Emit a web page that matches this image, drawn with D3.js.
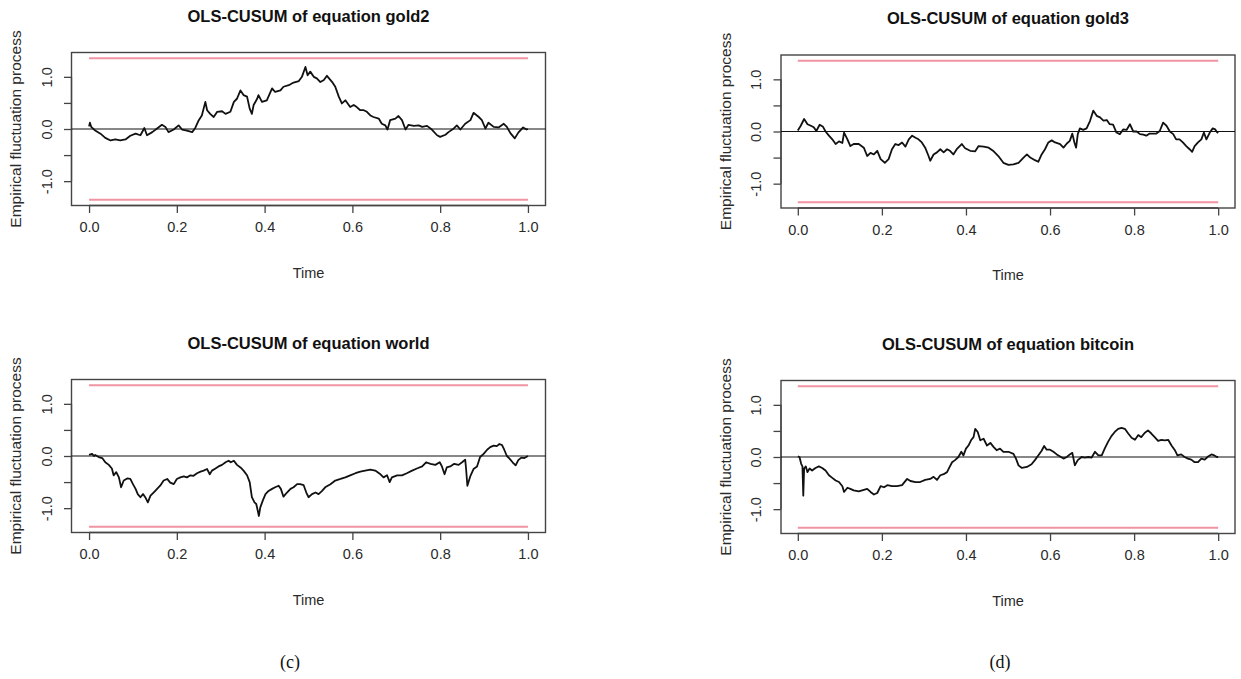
<!DOCTYPE html>
<html><head><meta charset="utf-8">
<script src="https://cdn.jsdelivr.net/npm/d3@7"></script>
<style>html,body{margin:0;padding:0;background:#fff;}svg{display:block;}</style>
</head><body>
<script>
// ---------- data ----------
const xTicks = [0, 0.2, 0.4, 0.6, 0.8, 1.0];
const xTickLabels = ["0.0", "0.2", "0.4", "0.6", "0.8", "1.0"];
const yTicks = [-1.0, -0.5, 0.0, 0.5, 1.0];
const yTickLabels = ["-1.0", "", "0.0", "", "1.0"];
const boundary = 1.358;
const titles = ["OLS-CUSUM of equation gold2", "OLS-CUSUM of equation gold3", "OLS-CUSUM of equation world", "OLS-CUSUM of equation bitcoin"];
const captions = ["(c)", "(d)"];

const gold2Time = [0,0.002,0.005,0.014,0.026,0.037,0.049,0.060,0.071,0.083,0.094,0.106,0.117,0.126,0.132,0.144,0.155,0.166,0.174,0.181,0.193,0.204,0.212,0.223,0.235,0.242,0.250,0.257,0.265,0.269,0.276,0.284,0.292,0.303,0.311,0.322,0.330,0.337,0.345,0.352,0.360,0.366,0.371,0.375,0.383,0.386,0.394,0.405,0.417,0.424,0.436,0.443,0.455,0.466,0.478,0.485,0.493,0.498,0.504,0.512,0.519,0.527,0.535,0.542,0.554,0.561,0.569,0.576,0.584,0.595,0.603,0.610,0.618,0.626,0.633,0.641,0.648,0.660,0.667,0.675,0.680,0.686,0.698,0.705,0.713,0.721,0.728,0.740,0.751,0.759,0.770,0.781,0.793,0.800,0.812,0.819,0.831,0.838,0.846,0.857,0.869,0.876,0.888,0.895,0.903,0.910,0.922,0.933,0.945,0.952,0.960,0.970,0.978,0.989,0.997,1.0];
const gold2Value = [0.05,0.12,0.04,-0.03,-0.09,-0.17,-0.22,-0.20,-0.22,-0.20,-0.13,-0.09,-0.12,0.02,-0.12,-0.06,0.01,0.08,0.04,-0.06,-0.01,0.07,-0.01,-0.03,-0.06,0.02,0.17,0.26,0.52,0.36,0.29,0.23,0.33,0.34,0.29,0.33,0.52,0.58,0.74,0.65,0.62,0.39,0.29,0.46,0.58,0.65,0.52,0.55,0.78,0.71,0.74,0.81,0.84,0.89,0.92,1.00,1.19,1.03,1.10,1.00,0.97,0.90,0.94,1.02,0.90,0.81,0.62,0.49,0.55,0.42,0.46,0.42,0.36,0.36,0.33,0.26,0.23,0.20,0.10,0.07,-0.01,0.17,0.20,0.25,0.17,-0.01,0.08,0.06,0.07,0.04,0.06,-0.01,-0.12,-0.15,-0.11,-0.06,0.01,0.07,-0.01,0.10,0.17,0.31,0.23,0.17,0.01,0.12,0.04,0.03,0.10,0.04,-0.08,-0.18,-0.07,0.03,-0.01,0.0];

const gold3Time = [0,0.007,0.015,0.023,0.031,0.038,0.044,0.052,0.060,0.066,0.074,0.082,0.090,0.098,0.106,0.110,0.118,0.125,0.133,0.145,0.157,0.165,0.173,0.181,0.189,0.197,0.207,0.216,0.224,0.232,0.240,0.248,0.256,0.264,0.272,0.280,0.287,0.295,0.303,0.311,0.315,0.323,0.331,0.339,0.347,0.355,0.362,0.370,0.378,0.390,0.398,0.410,0.422,0.430,0.442,0.454,0.466,0.477,0.489,0.501,0.513,0.525,0.537,0.545,0.553,0.564,0.572,0.580,0.588,0.596,0.604,0.612,0.624,0.632,0.640,0.647,0.653,0.658,0.662,0.666,0.671,0.679,0.687,0.695,0.703,0.711,0.719,0.727,0.735,0.742,0.750,0.758,0.766,0.774,0.782,0.790,0.798,0.806,0.814,0.822,0.829,0.837,0.845,0.853,0.861,0.869,0.877,0.885,0.893,0.900,0.908,0.916,0.924,0.932,0.938,0.944,0.952,0.960,0.966,0.972,0.980,0.987,0.993,0.997,1.0];
const gold3Value = [0.02,0.11,0.24,0.14,0.11,0.08,0.01,0.13,0.09,0.00,-0.08,-0.15,-0.24,-0.19,-0.22,-0.02,-0.15,-0.28,-0.24,-0.24,-0.31,-0.47,-0.41,-0.44,-0.37,-0.53,-0.60,-0.53,-0.34,-0.24,-0.26,-0.21,-0.29,-0.15,-0.08,-0.12,-0.15,-0.21,-0.31,-0.47,-0.56,-0.44,-0.40,-0.34,-0.40,-0.34,-0.37,-0.44,-0.34,-0.24,-0.32,-0.37,-0.38,-0.28,-0.29,-0.31,-0.38,-0.47,-0.60,-0.64,-0.63,-0.60,-0.50,-0.44,-0.50,-0.55,-0.58,-0.44,-0.34,-0.21,-0.17,-0.21,-0.24,-0.31,-0.23,-0.18,-0.04,-0.21,-0.31,-0.05,0.06,0.03,0.06,0.20,0.40,0.30,0.27,0.21,0.22,0.14,0.13,-0.02,-0.05,0.04,0.03,0.14,0.00,0.00,-0.05,-0.06,-0.08,-0.04,-0.04,-0.04,0.01,0.17,0.11,0.00,-0.05,-0.15,-0.15,-0.21,-0.28,-0.34,-0.39,-0.28,-0.21,-0.15,-0.02,-0.15,-0.02,0.06,0.04,-0.01,-0.03];

const worldTime = [0,0.007,0.011,0.014,0.022,0.030,0.037,0.045,0.052,0.056,0.062,0.068,0.073,0.079,0.087,0.094,0.100,0.106,0.111,0.117,0.123,0.128,0.134,0.140,0.147,0.155,0.162,0.170,0.178,0.185,0.193,0.200,0.208,0.216,0.223,0.231,0.238,0.246,0.254,0.261,0.269,0.275,0.280,0.288,0.295,0.303,0.311,0.318,0.323,0.330,0.337,0.345,0.352,0.360,0.366,0.371,0.377,0.381,0.387,0.390,0.396,0.402,0.409,0.417,0.424,0.432,0.437,0.443,0.451,0.459,0.466,0.474,0.481,0.489,0.495,0.500,0.508,0.516,0.523,0.531,0.538,0.550,0.561,0.573,0.584,0.595,0.607,0.618,0.629,0.641,0.652,0.664,0.671,0.679,0.685,0.690,0.702,0.713,0.724,0.736,0.747,0.759,0.768,0.778,0.789,0.799,0.804,0.810,0.815,0.823,0.832,0.842,0.850,0.857,0.859,0.862,0.869,0.876,0.884,0.891,0.899,0.907,0.914,0.922,0.929,0.935,0.941,0.946,0.952,0.958,0.965,0.972,0.978,0.985,0.992,1.0];
const worldValue = [0.02,0.04,0.00,0.02,-0.02,-0.04,-0.12,-0.17,-0.24,-0.37,-0.31,-0.41,-0.60,-0.47,-0.43,-0.44,-0.54,-0.63,-0.73,-0.79,-0.73,-0.79,-0.89,-0.76,-0.70,-0.63,-0.57,-0.47,-0.44,-0.51,-0.54,-0.44,-0.41,-0.39,-0.41,-0.37,-0.38,-0.33,-0.30,-0.28,-0.25,-0.35,-0.28,-0.24,-0.20,-0.17,-0.12,-0.09,-0.12,-0.09,-0.17,-0.22,-0.28,-0.37,-0.50,-0.79,-0.89,-0.92,-1.15,-0.99,-0.85,-0.73,-0.67,-0.63,-0.60,-0.57,-0.63,-0.78,-0.70,-0.63,-0.60,-0.54,-0.54,-0.56,-0.70,-0.79,-0.73,-0.70,-0.73,-0.67,-0.60,-0.54,-0.47,-0.44,-0.41,-0.37,-0.33,-0.30,-0.28,-0.26,-0.28,-0.35,-0.41,-0.37,-0.50,-0.41,-0.37,-0.37,-0.33,-0.28,-0.24,-0.20,-0.12,-0.15,-0.17,-0.12,-0.20,-0.35,-0.22,-0.20,-0.15,-0.17,-0.12,-0.07,-0.24,-0.57,-0.38,-0.25,-0.20,-0.02,0.04,0.12,0.17,0.20,0.19,0.23,0.21,0.12,0.00,-0.05,-0.12,-0.18,-0.08,-0.03,-0.04,0.0];

const bitcoinTime = [0,0.004,0.008,0.011,0.013,0.015,0.019,0.023,0.028,0.034,0.042,0.050,0.058,0.066,0.074,0.082,0.090,0.098,0.106,0.110,0.118,0.125,0.133,0.145,0.157,0.165,0.173,0.181,0.189,0.197,0.205,0.213,0.224,0.236,0.248,0.260,0.268,0.280,0.291,0.303,0.315,0.323,0.331,0.339,0.347,0.355,0.360,0.367,0.374,0.382,0.389,0.394,0.400,0.406,0.412,0.418,0.422,0.428,0.434,0.442,0.450,0.458,0.466,0.473,0.481,0.489,0.501,0.513,0.519,0.525,0.533,0.545,0.556,0.564,0.572,0.580,0.586,0.592,0.600,0.608,0.616,0.624,0.632,0.640,0.647,0.653,0.659,0.666,0.675,0.683,0.691,0.699,0.707,0.715,0.723,0.730,0.738,0.746,0.754,0.762,0.770,0.778,0.786,0.794,0.802,0.810,0.817,0.825,0.833,0.841,0.849,0.857,0.865,0.873,0.881,0.889,0.897,0.903,0.912,0.920,0.928,0.936,0.944,0.952,0.960,0.968,0.976,0.984,0.991,0.997,1.0];
const bitcoinValue = [0.01,0.0,-0.13,-0.18,-0.74,-0.22,-0.18,-0.29,-0.22,-0.26,-0.21,-0.18,-0.21,-0.26,-0.35,-0.40,-0.45,-0.48,-0.56,-0.67,-0.59,-0.61,-0.64,-0.66,-0.63,-0.61,-0.67,-0.72,-0.69,-0.56,-0.58,-0.54,-0.56,-0.56,-0.54,-0.42,-0.46,-0.48,-0.48,-0.44,-0.42,-0.38,-0.44,-0.35,-0.33,-0.29,-0.21,-0.10,-0.06,0.00,0.10,0.03,0.16,0.22,0.32,0.38,0.54,0.48,0.32,0.35,0.22,0.27,0.19,0.13,0.16,0.10,0.10,0.06,-0.03,-0.16,-0.21,-0.19,-0.14,-0.06,0.03,0.12,0.21,0.14,0.14,0.10,0.05,0.01,-0.03,0.00,0.05,0.08,-0.16,-0.06,0.00,-0.01,0.00,-0.01,0.10,0.03,0.03,0.16,0.29,0.40,0.48,0.54,0.56,0.54,0.45,0.37,0.33,0.42,0.38,0.46,0.51,0.45,0.38,0.31,0.33,0.32,0.33,0.22,0.13,0.03,0.05,0.00,-0.03,-0.05,-0.10,-0.10,-0.03,-0.05,0.01,0.05,0.03,0.00,0.0];

const seriesTime = [gold2Time, gold3Time, worldTime, bitcoinTime];
const seriesValue = [gold2Value, gold3Value, worldValue, bitcoinValue];

// ---------- layout ----------
const W = 1241, H = 679;
const boxes = [
  {l: 71.5, r: 545.5, t: 52.5, b: 205.5},
  {l: 781, r: 1235, t: 55, b: 208},
  {l: 71.5, r: 545.5, t: 379.5, b: 532.5},
  {l: 781, r: 1235, t: 380.5, b: 533.5}
];
const captionPos = [{x: 290, y: 662}, {x: 1000, y: 662}];
const FONT = "'Liberation Sans', Arial, Helvetica, sans-serif";

const svg = d3.select("body").append("svg").attr("width", W).attr("height", H)
  .style("background", "#fff");

boxes.forEach((bx, i) => {
  const x = d3.scaleLinear().domain([-0.04, 1.04]).range([bx.l, bx.r]);
  const ylim = boundary * 1.08;
  const y = d3.scaleLinear().domain([-ylim, ylim]).range([bx.b, bx.t]);
  const g = svg.append("g");

  // x axis
  const xAxis = d3.axisBottom(x).tickValues(xTicks).tickFormat((d, k) => xTickLabels[k]).tickSize(7.5).tickPadding(9);
  const gx = g.append("g").attr("transform", `translate(0,${bx.b})`).call(xAxis);
  gx.select(".domain").attr("d", `M${x(0)},0H${x(1)}`).attr("stroke", "#444").attr("stroke-width", 1.3);
  gx.selectAll(".tick line").attr("stroke", "#444").attr("stroke-width", 1.3);
  gx.selectAll(".tick text").attr("font-family", FONT).attr("font-size", 14.5).attr("fill", "#2a2a2a");

  // y axis
  const yAxis = d3.axisLeft(y).tickValues(yTicks).tickFormat((d, k) => yTickLabels[k]).tickSize(7.5);
  const gy = g.append("g").attr("transform", `translate(${bx.l},0)`).call(yAxis);
  gy.select(".domain").attr("d", `M0,${y(-1)}V${y(1)}`).attr("stroke", "#444").attr("stroke-width", 1.3);
  gy.selectAll(".tick line").attr("stroke", "#444").attr("stroke-width", 1.3);
  gy.selectAll(".tick text")
    .attr("x", null).attr("dy", null)
    .attr("transform", "translate(-25,0) rotate(-90)")
    .attr("text-anchor", "middle").attr("dominant-baseline", "central")
    .attr("font-family", FONT).attr("font-size", 14.5).attr("fill", "#2a2a2a");

  // box
  g.append("rect").attr("x", bx.l).attr("y", bx.t).attr("width", bx.r - bx.l).attr("height", bx.b - bx.t)
    .attr("fill", "none").attr("stroke", "#444").attr("stroke-width", 1.4);

  // boundaries
  [boundary, -boundary].forEach(bv => {
    g.append("path").attr("d", d3.line()([[x(0), y(bv)], [x(1), y(bv)]]))
      .attr("stroke", "#F093A3").attr("stroke-width", 2).attr("fill", "none");
  });
  // zero line
  g.append("path").attr("d", d3.line()([[bx.l, y(0)], [bx.r, y(0)]]))
    .attr("stroke", "#111").attr("stroke-width", 1.2).attr("fill", "none");

  // process
  const pts = seriesTime[i].map((t, k) => [t, seriesValue[i][k]]);
  g.append("path").datum(pts)
    .attr("d", d3.line().x(d => x(d[0])).y(d => y(d[1])))
    .attr("fill", "none").attr("stroke", "#111").attr("stroke-width", 1.8).attr("stroke-linejoin", "round");

  // titles
  const cx = (bx.l + bx.r) / 2;
  g.append("text").attr("x", cx).attr("y", bx.t - 37).attr("text-anchor", "middle").attr("dominant-baseline", "central")
    .attr("font-family", FONT).attr("font-weight", "bold").attr("font-size", 16.5).attr("fill", "#111").text(titles[i]);
  g.append("text").attr("x", cx).attr("y", bx.b + 67).attr("text-anchor", "middle").attr("dominant-baseline", "central")
    .attr("font-family", FONT).attr("font-size", 14.5).attr("fill", "#2a2a2a").text("Time");
  g.append("text").attr("transform", `translate(${bx.l - 56},${(bx.t + bx.b) / 2}) rotate(-90)`)
    .attr("text-anchor", "middle").attr("dominant-baseline", "central")
    .attr("font-family", FONT).attr("font-size", 15.5).attr("fill", "#2a2a2a").text("Empirical fluctuation process");
});

captions.forEach((c, k) => {
  svg.append("text").attr("x", captionPos[k].x).attr("y", captionPos[k].y)
    .attr("text-anchor", "middle").attr("dominant-baseline", "central")
    .attr("font-family", "'Liberation Serif', 'Times New Roman', serif").attr("font-size", 18).attr("fill", "#111").text(c);
});
</script>
</body></html>
